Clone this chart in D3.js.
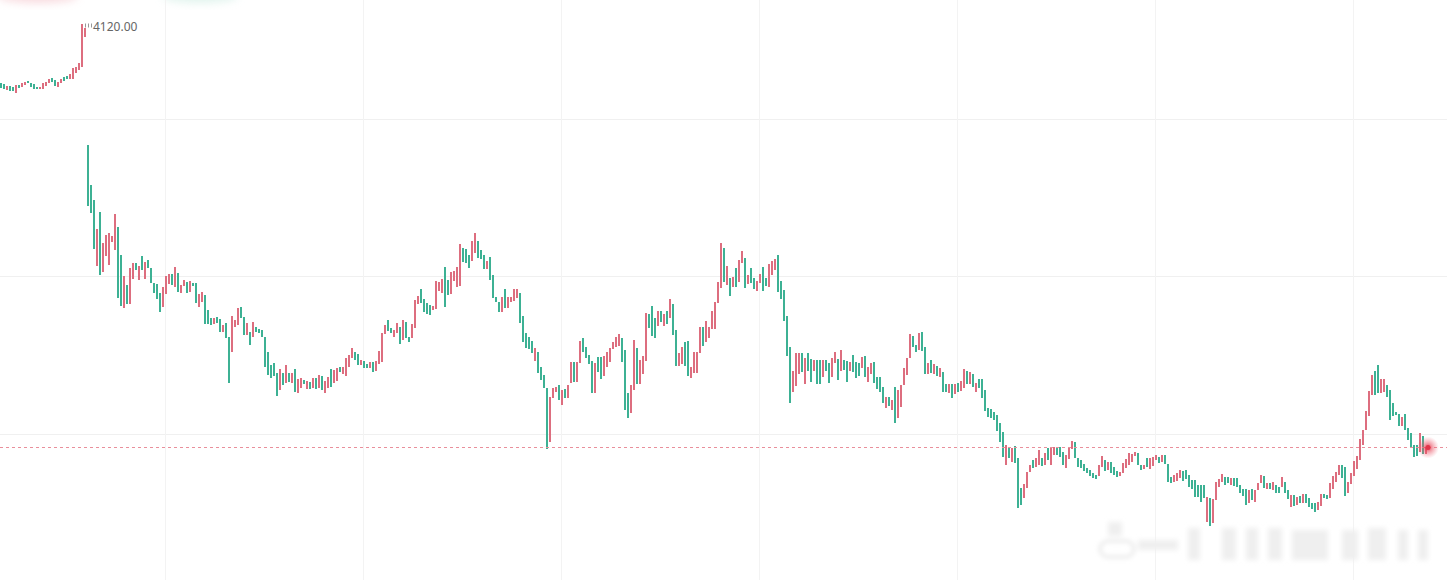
<!DOCTYPE html>
<html>
<head>
<meta charset="utf-8">
<script src="https://cdn.jsdelivr.net/npm/d3@7"></script>
<style>
  html, body { margin: 0; padding: 0; background: #fff; }
  svg { display: block; }
  .price-label { font-family: "Noto Sans", "DejaVu Sans", sans-serif; font-size: 12px; fill: #666; }
</style>
</head>
<body>
<div class="chart"></div>
<script>
// candle bodies, one per minute bar (price units)
var opens = [
  4114.1, 4114.0, 4113.4, 4113.8, 4113.7, 4113.1, 4113.9, 4113.7, 4113.9, 4114.3,
  4114.1, 4114.0, 4113.7, 4113.5, 4113.5, 4113.8, 4114.1, 4114.6, 4114.4, 4113.7,
  4114.1, 4114.7, 4114.8, 4114.5, 4114.5, 4115.1, 4115.4, 4115.7, 4118.7, 4107.9,
  4103.9, 4102.4, 4095.8, 4101.2, 4095.2, 4096.8, 4095.9, 4098.2, 4097.4, 4099.7,
  4096.9, 4091.6, 4093.9, 4092.0, 4094.5, 4096.1, 4094.4, 4096.8, 4094.5, 4096.4,
  4095.6, 4094.1, 4094.0, 4093.1, 4091.7, 4093.0, 4094.0, 4095.0, 4093.7, 4095.1,
  4093.1, 4093.8, 4094.2, 4093.2, 4094.1, 4094.1, 4091.7, 4092.2, 4092.9, 4091.4,
  4090.6, 4090.0, 4090.7, 4090.5, 4089.2, 4090.1, 4088.7, 4087.2, 4089.7, 4089.9,
  4091.7, 4090.7, 4088.9, 4089.2, 4088.7, 4089.7, 4089.5, 4089.4, 4088.7, 4087.2,
  4085.9, 4086.1, 4085.1, 4083.4, 4085.1, 4084.1, 4085.1, 4084.1, 4085.5, 4083.1,
  4083.6, 4084.4, 4083.5, 4084.2, 4083.6, 4084.6, 4083.6, 4084.8, 4083.1, 4083.6,
  4085.5, 4084.1, 4084.3, 4085.7, 4085.0, 4084.8, 4085.7, 4086.6, 4087.2, 4087.0,
  4085.9, 4086.3, 4086.0, 4085.6, 4086.2, 4085.3, 4086.0, 4086.2, 4089.0, 4090.4,
  4089.6, 4088.7, 4089.1, 4089.7, 4088.4, 4090.2, 4088.7, 4088.6, 4089.6, 4092.0,
  4093.5, 4092.5, 4092.1, 4091.9, 4091.4, 4091.5, 4093.3, 4093.1, 4095.7, 4094.4,
  4093.0, 4094.3, 4093.7, 4093.8, 4097.6, 4097.5, 4096.9, 4096.3, 4097.1, 4098.3,
  4097.4, 4096.9, 4095.5, 4096.7, 4094.9, 4092.7, 4092.2, 4091.2, 4093.5, 4091.6,
  4092.2, 4092.3, 4092.6, 4093.1, 4090.8, 4089.1, 4088.7, 4088.3, 4086.3, 4087.2,
  4085.7, 4084.9, 4083.6, 4078.2, 4082.6, 4083.2, 4083.9, 4081.9, 4083.5, 4082.6,
  4084.1, 4086.2, 4084.2, 4086.1, 4088.6, 4087.7, 4086.9, 4086.3, 4083.1, 4086.7,
  4086.7, 4084.8, 4085.7, 4086.2, 4087.5, 4087.7, 4087.8, 4088.6, 4087.4, 4083.1,
  4081.1, 4083.4, 4087.6, 4084.0, 4085.0, 4086.3, 4091.0, 4091.8, 4090.6, 4089.8,
  4091.3, 4089.8, 4091.3, 4090.6, 4092.0, 4089.4, 4085.8, 4086.0, 4088.2, 4088.3,
  4084.6, 4085.1, 4085.1, 4087.1, 4089.7, 4088.2, 4088.6, 4089.5, 4089.5, 4092.1,
  4093.6, 4097.6, 4093.9, 4094.6, 4093.7, 4095.6, 4094.2, 4096.1, 4096.6, 4094.0,
  4095.6, 4094.6, 4093.3, 4094.1, 4095.7, 4094.6, 4093.7, 4094.9, 4095.4, 4096.9,
  4094.3, 4093.4, 4090.8, 4087.7, 4083.2, 4083.8, 4085.0, 4087.1, 4084.0, 4087.1,
  4086.5, 4085.3, 4086.4, 4086.4, 4084.7, 4086.4, 4086.1, 4084.7, 4086.1, 4086.5,
  4085.3, 4086.4, 4086.3, 4085.3, 4086.9, 4086.2, 4086.1, 4085.6, 4086.8, 4084.2,
  4085.0, 4086.2, 4084.7, 4084.7, 4083.7, 4081.6, 4082.7, 4081.4, 4083.7, 4080.6,
  4081.7, 4083.9, 4084.9, 4086.6, 4088.8, 4087.9, 4087.4, 4089.2, 4087.7, 4085.0,
  4086.4, 4085.0, 4085.8, 4084.7, 4085.2, 4084.0, 4083.1, 4084.0, 4083.0, 4084.1,
  4083.3, 4083.6, 4085.3, 4084.0, 4085.0, 4083.2, 4084.5, 4084.5, 4083.4, 4081.6,
  4081.5, 4081.2, 4080.9, 4080.1, 4079.2, 4075.9, 4077.7, 4076.2, 4077.8, 4076.6,
  4073.6, 4072.6, 4073.6, 4075.2, 4076.4, 4075.7, 4075.9, 4076.6, 4075.9, 4077.6,
  4075.9, 4076.9, 4077.7, 4077.7, 4077.2, 4075.6, 4076.5, 4077.5, 4078.2, 4076.6,
  4076.4, 4076.0, 4075.6, 4075.4, 4075.1, 4074.9, 4074.8, 4075.7, 4076.4, 4075.4,
  4076.2, 4075.7, 4075.3, 4074.8, 4075.1, 4075.6, 4075.9, 4076.2, 4076.8, 4077.1,
  4075.9, 4075.5, 4076.6, 4075.5, 4075.8, 4076.4, 4076.7, 4076.2, 4076.9, 4076.0,
  4074.7, 4074.2, 4074.3, 4074.6, 4075.3, 4075.4, 4074.9, 4074.4, 4074.4, 4073.9,
  4073.9, 4073.9, 4070.2, 4072.6, 4070.1, 4072.4, 4073.7, 4074.2, 4074.7, 4074.7,
  4073.9, 4074.6, 4074.6, 4073.9, 4073.5, 4073.5, 4072.1, 4073.5, 4072.2, 4073.4,
  4074.1, 4074.8, 4073.5, 4074.1, 4073.4, 4073.9, 4073.7, 4073.7, 4074.2, 4073.4,
  4071.7, 4072.9, 4071.9, 4072.8, 4072.1, 4073.0, 4072.6, 4072.1, 4072.1, 4071.4,
  4071.8, 4073.0, 4072.9, 4072.6, 4073.5, 4074.2, 4074.9, 4075.9, 4075.7, 4073.1,
  4074.0, 4074.8, 4075.5, 4076.4, 4077.9, 4079.4, 4080.8, 4082.9, 4085.3, 4085.9,
  4083.1, 4083.2, 4083.9, 4083.4, 4082.1, 4081.2, 4081.0, 4079.8, 4081.0, 4079.6,
  4079.1, 4077.9, 4077.9, 4077.2, 4078.8, 4077.0
];
var closes = [
  4113.6, 4113.5, 4113.8, 4113.3, 4113.3, 4113.9, 4113.6, 4114.1, 4114.2, 4114.1,
  4113.7, 4113.5, 4113.5, 4113.7, 4114.1, 4114.2, 4114.5, 4114.2, 4113.8, 4114.2,
  4114.5, 4114.3, 4114.5, 4115.0, 4115.6, 4115.7, 4116.1, 4120.0, 4119.6, 4101.8,
  4101.1, 4097.5, 4099.5, 4094.9, 4098.1, 4098.9, 4099.1, 4098.8, 4101.0, 4092.6,
  4091.8, 4094.8, 4092.0, 4095.6, 4096.1, 4095.4, 4095.8, 4095.4, 4096.2, 4095.6,
  4094.1, 4093.1, 4092.5, 4091.2, 4093.7, 4094.8, 4095.0, 4093.9, 4095.7, 4093.2,
  4093.9, 4094.4, 4093.1, 4094.3, 4093.8, 4092.1, 4093.0, 4093.2, 4090.0, 4090.0,
  4089.9, 4090.6, 4090.1, 4089.2, 4089.9, 4088.6, 4084.1, 4090.8, 4090.4, 4091.6,
  4090.6, 4088.9, 4090.1, 4087.9, 4090.2, 4089.2, 4089.1, 4088.7, 4085.7, 4084.9,
  4084.6, 4084.8, 4082.8, 4085.5, 4083.9, 4085.9, 4084.2, 4085.1, 4083.2, 4084.5,
  4084.6, 4084.0, 4084.3, 4083.5, 4084.6, 4083.5, 4084.9, 4083.4, 4084.3, 4084.7,
  4083.7, 4085.4, 4085.6, 4085.2, 4085.7, 4086.6, 4086.9, 4087.6, 4086.4, 4085.9,
  4086.4, 4085.6, 4085.6, 4086.2, 4085.2, 4086.3, 4087.3, 4089.1, 4089.9, 4089.3,
  4089.1, 4089.4, 4090.1, 4088.0, 4090.4, 4088.6, 4088.2, 4090.0, 4092.4, 4092.8,
  4092.1, 4091.2, 4091.0, 4090.9, 4091.8, 4094.3, 4094.2, 4094.5, 4091.7, 4092.9,
  4095.2, 4095.3, 4095.7, 4098.0, 4096.2, 4096.1, 4095.6, 4098.3, 4099.1, 4096.6,
  4096.5, 4095.5, 4096.3, 4094.4, 4092.6, 4092.2, 4091.2, 4092.7, 4091.6, 4092.7,
  4092.7, 4093.5, 4093.5, 4090.1, 4088.2, 4087.6, 4087.5, 4087.1, 4087.6, 4085.1,
  4084.4, 4083.6, 4077.5, 4082.7, 4083.6, 4083.7, 4082.4, 4083.4, 4082.6, 4083.9,
  4086.2, 4084.2, 4086.2, 4088.3, 4087.2, 4086.6, 4086.0, 4083.1, 4086.1, 4085.2,
  4084.5, 4086.8, 4087.2, 4087.6, 4088.2, 4088.7, 4089.0, 4086.2, 4081.4, 4080.6,
  4083.9, 4088.4, 4084.0, 4086.4, 4086.8, 4091.1, 4089.6, 4088.8, 4088.6, 4091.3,
  4090.2, 4091.0, 4090.0, 4092.5, 4088.9, 4085.8, 4087.1, 4087.7, 4085.8, 4084.8,
  4085.7, 4087.2, 4087.2, 4089.7, 4087.8, 4090.3, 4089.7, 4091.3, 4092.2, 4094.2,
  4098.1, 4094.2, 4095.8, 4092.8, 4094.7, 4093.7, 4096.4, 4097.3, 4093.6, 4094.9,
  4094.1, 4093.5, 4094.3, 4095.0, 4093.3, 4093.8, 4096.0, 4096.3, 4096.5, 4093.2,
  4092.5, 4090.3, 4086.8, 4082.1, 4085.3, 4087.1, 4087.1, 4085.2, 4086.6, 4085.3,
  4084.2, 4086.4, 4084.0, 4084.0, 4086.4, 4085.3, 4084.1, 4086.6, 4087.2, 4084.4,
  4087.4, 4085.4, 4084.2, 4086.2, 4085.2, 4084.6, 4084.8, 4086.7, 4084.7, 4085.7,
  4086.1, 4084.1, 4083.5, 4083.2, 4082.1, 4082.7, 4081.8, 4082.4, 4080.1, 4083.4,
  4083.9, 4085.6, 4086.6, 4089.0, 4087.7, 4087.2, 4089.1, 4087.3, 4085.0, 4086.1,
  4085.1, 4086.0, 4084.8, 4085.6, 4083.2, 4083.2, 4084.0, 4082.6, 4084.0, 4083.2,
  4084.3, 4085.5, 4084.0, 4085.2, 4083.7, 4084.1, 4083.6, 4082.6, 4081.3, 4080.7,
  4080.6, 4080.4, 4079.3, 4078.2, 4076.7, 4077.9, 4076.6, 4077.6, 4076.1, 4071.6,
  4071.9, 4074.0, 4075.2, 4075.9, 4075.6, 4076.6, 4077.4, 4075.8, 4077.1, 4076.4,
  4077.7, 4077.7, 4076.9, 4076.7, 4075.9, 4076.9, 4077.7, 4078.3, 4076.6, 4075.7,
  4075.6, 4075.3, 4075.1, 4074.8, 4074.6, 4074.5, 4075.9, 4076.8, 4075.3, 4076.2,
  4075.1, 4074.9, 4074.7, 4075.2, 4076.1, 4076.5, 4077.1, 4077.0, 4077.2, 4075.9,
  4075.4, 4075.9, 4075.7, 4076.6, 4076.7, 4076.9, 4076.1, 4076.9, 4076.0, 4074.2,
  4074.1, 4074.9, 4075.1, 4075.4, 4074.3, 4074.5, 4073.7, 4073.5, 4072.7, 4072.7,
  4072.2, 4072.6, 4072.7, 4069.8, 4072.5, 4074.2, 4074.5, 4075.0, 4073.9, 4074.1,
  4074.6, 4073.8, 4073.7, 4073.1, 4072.8, 4071.9, 4073.4, 4072.4, 4073.4, 4074.1,
  4074.9, 4073.6, 4074.1, 4073.5, 4074.2, 4073.1, 4073.1, 4074.7, 4073.1, 4072.5,
  4072.9, 4071.8, 4072.7, 4072.1, 4073.0, 4072.1, 4071.7, 4071.5, 4071.2, 4072.2,
  4073.0, 4072.6, 4072.5, 4074.1, 4074.8, 4075.2, 4075.9, 4074.6, 4072.8, 4074.2,
  4075.1, 4076.3, 4076.8, 4078.5, 4079.4, 4081.3, 4083.3, 4084.9, 4082.9, 4083.1,
  4084.5, 4084.5, 4082.7, 4080.4, 4080.8, 4080.9, 4079.8, 4080.7, 4079.4, 4078.4,
  4077.7, 4076.7, 4076.8, 4079.1, 4077.0, 4077.7
];

// hidden price axis: horizontal grid levels
var yTicks = [4110.5, 4094.75, 4079.0];
// bar indexes where the (hidden) time axis puts its grid lines
var timeTicks = [55, 121, 187, 253, 319, 385, 451];

var width = 1447, height = 580,
    barStep = 3,   // px between bars
    barWidth = 2;

var data = opens.map(function(o, i) { return {i: i, open: o, close: closes[i]}; });

var x = d3.scaleLinear()
    .domain([0, data.length - 1])
    .range([1, 1 + barStep * (data.length - 1)]);   // bar centres

var y = d3.scaleLinear()
    .domain([4122.4, 4064.4])
    .range([0, height]);

var svg = d3.select(".chart").append("svg")
    .attr("width", width)
    .attr("height", height);

var defs = svg.append("defs");
defs.append("filter").attr("id", "soft").attr("x", "-50%").attr("y", "-50%").attr("width", "200%").attr("height", "200%")
  .append("feGaussianBlur").attr("stdDeviation", 4);
defs.append("filter").attr("id", "softer").attr("x", "-20%").attr("y", "-50%").attr("width", "140%").attr("height", "200%")
  .append("feGaussianBlur").attr("stdDeviation", 2.5);
var glow = defs.append("radialGradient").attr("id", "glow");
glow.append("stop").attr("offset", "0%").attr("stop-color", "#e3354a").attr("stop-opacity", 0.95);
glow.append("stop").attr("offset", "40%").attr("stop-color", "#e8485b").attr("stop-opacity", 0.5);
glow.append("stop").attr("offset", "100%").attr("stop-color", "#f07080").attr("stop-opacity", 0);

svg.append("rect").attr("width", width).attr("height", height).attr("fill", "#fff");

// faded legend remnants at the very top (cut off)
svg.append("ellipse").attr("cx", 38).attr("cy", -4).attr("rx", 40).attr("ry", 7)
    .attr("fill", "#f2b8c0").attr("opacity", 0.5).attr("filter", "url(#soft)");
svg.append("ellipse").attr("cx", 200).attr("cy", -4).attr("rx", 38).attr("ry", 7)
    .attr("fill", "#c4e9dd").attr("opacity", 0.5).attr("filter", "url(#soft)");

// grid
svg.append("g").selectAll("line")
    .data(yTicks)
    .enter().append("line")
    .attr("x1", 0).attr("x2", width)
    .attr("y1", function(d) { return Math.round(y(d)) + 0.5; })
    .attr("y2", function(d) { return Math.round(y(d)) + 0.5; })
    .attr("stroke", "#f0f0f0");

svg.append("g").selectAll("line")
    .data(timeTicks)
    .enter().append("line")
    .attr("y1", 0).attr("y2", height)
    .attr("x1", function(d) { return Math.round(x(d)) - 0.5; })
    .attr("x2", function(d) { return Math.round(x(d)) - 0.5; })
    .attr("stroke", "#f3f3f3");

// blurred watermark, bottom right
var wm = svg.append("g").attr("filter", "url(#softer)").attr("fill", "#efefef");
wm.append("rect").attr("x", 1100).attr("y", 541).attr("width", 34).attr("height", 16).attr("rx", 8)
    .attr("fill", "none").attr("stroke", "#dedede").attr("stroke-width", 2);
[[1108, 522, 14, 14], [1138, 540, 40, 10], [1188, 528, 12, 32], [1222, 528, 14, 32], [1246, 528, 12, 32],
 [1268, 528, 14, 32], [1292, 530, 36, 30], [1342, 530, 16, 30], [1368, 528, 18, 32], [1398, 530, 10, 30],
 [1418, 530, 10, 30]].forEach(function(r) {
  wm.append("rect").attr("x", r[0]).attr("y", r[1]).attr("width", r[2]).attr("height", r[3]);
});

// candles
svg.append("g").selectAll(".bar")
    .data(data)
    .enter().append("rect")
    .attr("class", "bar")
    .attr("x", function(d) { return x(d.i) - barWidth / 2; })
    .attr("width", barWidth)
    .attr("y", function(d) { return Math.round(y(Math.max(d.open, d.close))); })
    .attr("height", function(d) { return Math.max(2, Math.round(Math.abs(y(d.open) - y(d.close)))); })
    .attr("shape-rendering", "crispEdges")
    .attr("fill", function(d) { return d.close >= d.open ? "#dd6e7f" : "#3db194"; });

// last price line + pulsing dot
var last = data[data.length - 1];
var ly = Math.round(y(last.close)) + 0.5;
svg.append("line")
    .attr("x1", 0).attr("x2", width)
    .attr("y1", ly).attr("y2", ly)
    .attr("stroke", "#e98f9b")
    .attr("stroke-dasharray", "3,3");

svg.append("circle").attr("cx", x(last.i) + 2).attr("cy", ly).attr("r", 11).attr("fill", "url(#glow)");
svg.append("circle").attr("cx", x(last.i) + 2).attr("cy", ly).attr("r", 2.5).attr("fill", "#e3354a");

// highest price marker
var peak = data.reduce(function(a, b) { return Math.max(b.open, b.close) > Math.max(a.open, a.close) ? b : a; });
var hi = Math.max(peak.open, peak.close);
svg.append("line")
    .attr("x1", x(peak.i) + 3).attr("x2", x(peak.i) + 10)
    .attr("y1", y(hi) + 1.5).attr("y2", y(hi) + 1.5)
    .attr("stroke", "#999").attr("stroke-width", 4).attr("stroke-dasharray", "1,2");
svg.append("text")
    .attr("class", "price-label")
    .attr("x", x(peak.i) + 11)
    .attr("y", y(hi) + 7)
    .text(hi.toFixed(2));
</script>
</body>
</html>
